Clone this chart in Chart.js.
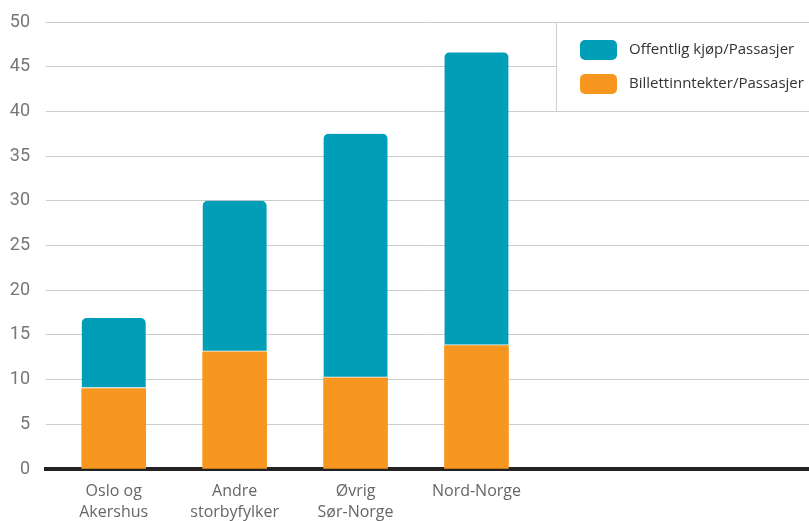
<!DOCTYPE html>
<html>
<head>
<meta charset="utf-8">
<script src="https://cdn.jsdelivr.net/npm/chart.js@4/dist/chart.umd.min.js"></script>
<style>
  html, body { margin: 0; padding: 0; background: #fff; }
  #wrap { width: 809px; height: 521px; position: relative; }
</style>
</head>
<body>
<div id="wrap"><canvas id="chart"></canvas></div>
<script>
// data
const categories = [['Oslo og', 'Akershus'], ['Andre', 'storbyfylker'], ['Øvrig', 'Sør-Norge'], 'Nord-Norge'];
const billett = [9.0, 13.1, 10.2, 13.8];     // Billettinntekter/Passasjer
const offentlig = [7.9, 16.9, 27.3, 32.8];   // Offentlig kjøp/Passasjer
const yTicks = [0, 5, 10, 15, 20, 25, 30, 35, 40, 45, 50];

const teal = '#009fb7';
const orange = '#f7971f';

const toPoints = arr => arr.map((v, i) => ({ x: i, y: v }));

// legend drawn as a white box in the top right corner
const boxLegend = {
  id: 'boxLegend',
  afterDraw(chart) {
    const ctx = chart.ctx;
    const top = chart.chartArea.top;
    const left = 556.5, bottom = 111.5;
    ctx.save();
    ctx.fillStyle = '#fff';
    ctx.fillRect(left, top + 1, chart.width - left, bottom - top - 1);
    ctx.strokeStyle = '#cfcfcf';
    ctx.lineWidth = 1;
    ctx.beginPath();
    ctx.moveTo(left, top);
    ctx.lineTo(left, bottom);
    ctx.lineTo(chart.width, bottom);
    ctx.stroke();
    // legend order: teal first, orange second
    const items = [chart.data.datasets[1], chart.data.datasets[0]];
    items.forEach((ds, i) => {
      const y = 40 + i * 34;
      ctx.fillStyle = ds.backgroundColor;
      ctx.beginPath();
      ctx.roundRect(580, y, 37, 20, 5);
      ctx.fill();
      ctx.fillStyle = '#333';
      ctx.font = '15px "Open Sans"';
      ctx.textBaseline = 'middle';
      ctx.fillText(ds.label, 629, y + 10);
    });
    ctx.restore();
  }
};

new Chart(document.getElementById('chart'), {
  type: 'bar',
  data: {
    datasets: [
      {
        label: 'Billettinntekter/Passasjer',
        data: toPoints(billett),
        backgroundColor: orange,
        barThickness: 64
      },
      {
        label: 'Offentlig kjøp/Passasjer',
        data: toPoints(offentlig),
        backgroundColor: teal,
        borderColor: '#fff',
        borderWidth: { top: 0, left: 0, right: 0, bottom: 1.5 },
        borderSkipped: false,
        borderRadius: { topLeft: 5, topRight: 5, bottomLeft: 0, bottomRight: 0 },
        barThickness: 64
      }
    ]
  },
  options: {
    responsive: true,
    maintainAspectRatio: false,
    animation: false,
    layout: { padding: { top: 22, left: 0, right: 0, bottom: 0 } },
    plugins: { legend: { display: false }, tooltip: { enabled: false } },
    scales: {
      x: {
        type: 'linear',
        stacked: true,
        offset: false,
        min: -0.56,
        max: 5.75,
        grid: { display: false },
        border: { display: true, color: '#222', width: 4 },
        afterFit: s => { s.height = 52; s.paddingTop = 0; s.paddingBottom = 0; },
        ticks: {
          stepSize: 1,
          includeBounds: false,
          autoSkip: false,
          maxRotation: 0,
          padding: 4,
          color: '#666',
          font: { family: 'Open Sans', size: 16, lineHeight: 1.3 },
          callback: v => (Number.isInteger(v) && categories[v] !== undefined) ? categories[v] : ''
        }
      },
      y: {
        stacked: true,
        min: 0,
        max: 50,
        afterFit: s => { s.width = 46; s.paddingTop = 0; s.paddingBottom = 0; },
        afterBuildTicks: s => { s.ticks = yTicks.map(v => ({ value: v })); },
        grid: { color: '#cccccc', lineWidth: 1, drawTicks: false },
        border: { display: false },
        ticks: {
          padding: 16,
          color: '#777',
          font: { family: 'Roboto', size: 18 }
        }
      }
    }
  },
  plugins: [boxLegend]
});
</script>
</body>
</html>
